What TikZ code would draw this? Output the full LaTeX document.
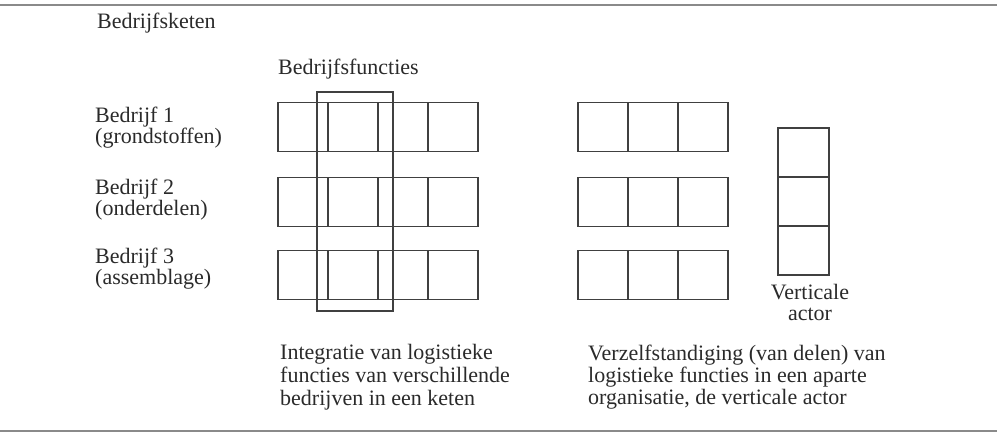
\documentclass[tikz,border=0pt]{standalone}
\usepackage{fontspec}
\setmainfont{Liberation Serif}
\definecolor{inkt}{HTML}{2A2A2A}
\definecolor{lijn}{HTML}{404040}
\definecolor{regel}{HTML}{8A8A8A}
\tikzset{
  cell/.style={draw=lijn, line width=1.8pt, minimum width=50pt, minimum height=49pt, inner sep=0pt},
  lbl/.style={text=inkt, inner sep=0pt, font={\fontsize{22}{21.5}\selectfont}},
  uitleg/.style={text=inkt, inner sep=0pt, align=left, font={\fontsize{22}{23}\selectfont}}
}
\begin{document}
\begin{tikzpicture}[x=1pt, y=-1pt]
  \useasboundingbox (0,0) rectangle (997,435);
  \draw[regel, line width=2.5pt] (0,5) -- (997,5);
  \draw[regel, line width=2pt] (0,431) -- (997,431);
  \node[lbl, anchor=base west] (keten) at (97,29) {Bedrijfsketen};
  \node[lbl, anchor=base west] (bftekst) at (278,75) {Bedrijfsfuncties};
  % bij meerdere regels ligt base op de laatste regel
  \node[lbl, anchor=base west, align=left] (b1) at (95,144) {Bedrijf 1\\(grondstoffen)};
  \node[lbl, anchor=base west, align=left] (b2) at (95,216) {Bedrijf 2\\(onderdelen)};
  \node[lbl, anchor=base west, align=left] (b3) at (95,285) {Bedrijf 3\\(assemblage)};
  % ketenintegratie
  \foreach \r/\y in {1/127,2/202,3/275}
    \foreach \c in {1,...,4}
      \node[cell] (k\r-\c) at ({253+50*\c},\y) {};
  \node[cell, minimum width=76pt, minimum height=219pt] (functies) at (355,201.5) {};
  % verzelfstandiging
  \foreach \r/\y in {1/127,2/202,3/275}
    \foreach \c in {1,...,3}
      \node[cell] (v\r-\c) at ({553+50*\c},\y) {};
  \foreach \c in {1,...,3}
    \node[cell, minimum width=51pt] (actor\c) at (803.5,{103.5+49*\c}) {};
  \node[lbl, anchor=base, align=center] (actortekst) at (810,321) {Verticale\\actor};
  \node[uitleg, anchor=base west] (integratie) at (280,406) {Integratie van logistieke\\functies van verschillende\\bedrijven in een keten};
  \node[uitleg, anchor=base west, font={\fontsize{22}{22}\selectfont}] (verzelf) at (588,405) {Verzelfstandiging (van delen) van\\logistieke functies in een aparte\\organisatie, de verticale actor};
\end{tikzpicture}
\end{document}
